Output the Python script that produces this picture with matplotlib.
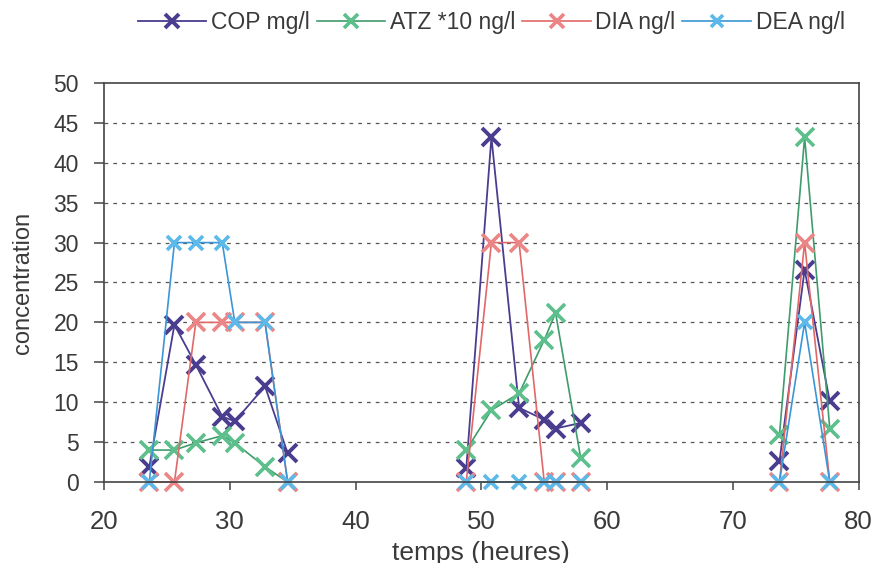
import matplotlib
matplotlib.use("Agg")
import matplotlib.pyplot as plt

plt.rcParams['font.family'] = ['Liberation Sans', 'DejaVu Sans']

# sampling runs (lines are not joined between runs)
run = [1, 1, 1, 1, 1, 1, 1,
       2, 2, 2, 2, 2, 2,
       3, 3, 3]
# time (hours)
temps = [23.6, 25.6, 27.3, 29.4, 30.4, 32.8, 34.6,
         48.8, 50.8, 53.0, 55.0, 55.9, 57.9,
         73.7, 75.7, 77.7]
cop = [1.9, 19.7, 14.7, 8.2, 7.6, 12.0, 3.6,
       1.7, 43.2, 9.3, 7.8, 6.7, 7.4,
       2.6, 26.6, 10.1]
atz = [4.0, 4.0, 4.9, 5.8, 4.9, 1.9, 0.0,
       4.0, 9.0, 11.1, 17.8, 21.2, 3.0,
       5.9, 43.2, 6.7]
dia = [0, 0, 20, 20, 20, 20, 0,
       0, 30, 30, 0, 0, 0,
       0, 30, 0]
dea = [0, 30, 30, 30, 20, 20, 0,
       0, 0, 0, 0, 0, 0,
       0, 20, 0]

labels = ["COP mg/l", "ATZ *10 ng/l", "DIA ng/l", "DEA ng/l"]
xticks = [20, 30, 40, 50, 60, 70, 80]
yticks = [0, 5, 10, 15, 20, 25, 30, 35, 40, 45, 50]

txt = '#3a3a3a'
fig = plt.figure(figsize=(8.74, 5.63), dpi=100)
ax = fig.add_axes([0.119, 0.1439, 0.8635, 0.7087])

styles = [
    dict(color='#4a3d8f', mec='#4a3d8f', ms=13, mew=2.8, lw=1.3),
    dict(color='#3f9c6c', mec='#5cbf8c', ms=13, mew=2.6, lw=1.2),
    dict(color='#e06868', mec='#ec8585', ms=13, mew=2.6, lw=1.2),
    dict(color='#3a96d6', mec='#5cb9ea', ms=10, mew=2.6, lw=1.2),
]
handles = []
for y, lab, st in zip([cop, atz, dia, dea], labels, styles):
    for r in sorted(set(run)):
        xs = [t for t, g in zip(temps, run) if g == r]
        ys = [v for v, g in zip(y, run) if g == r]
        h, = ax.plot(xs, ys, marker='x', color=st['color'], mec=st['mec'],
                     ms=st['ms'], mew=st['mew'], lw=st['lw'], clip_on=False)
    handles.append(h)

ax.set_xlim(20, 80)
ax.set_ylim(0, 50)
ax.set_xticks(xticks)
ax.set_yticks(yticks)
for yv in yticks[1:-1]:
    ax.axhline(yv, color='#555555', lw=0.9, ls=(0, (3, 4)), zorder=0)

for s in ax.spines.values():
    s.set_color('#444444')
    s.set_linewidth(1.2)
ax.tick_params(axis='x', direction='out', length=6, width=1.1, colors='#444444',
               labelsize=18.5, labelcolor=txt, pad=14)
ax.tick_params(axis='y', direction='out', length=7, width=1.1, colors='#444444',
               labelsize=16.5, labelcolor=txt, pad=11)

ax.set_xlabel("temps (heures)", fontsize=19, color=txt, labelpad=5)
ax.set_ylabel("concentration", fontsize=17, color=txt, labelpad=14)

leg = fig.legend(handles, labels, loc='center', bbox_to_anchor=(0.562, 0.96), ncol=4,
                 frameon=False, fontsize=16.5, handlelength=3.0, handletextpad=0.2,
                 columnspacing=0.3, labelcolor=txt, markerscale=0.8)

fig.savefig("out.png", dpi=100)
